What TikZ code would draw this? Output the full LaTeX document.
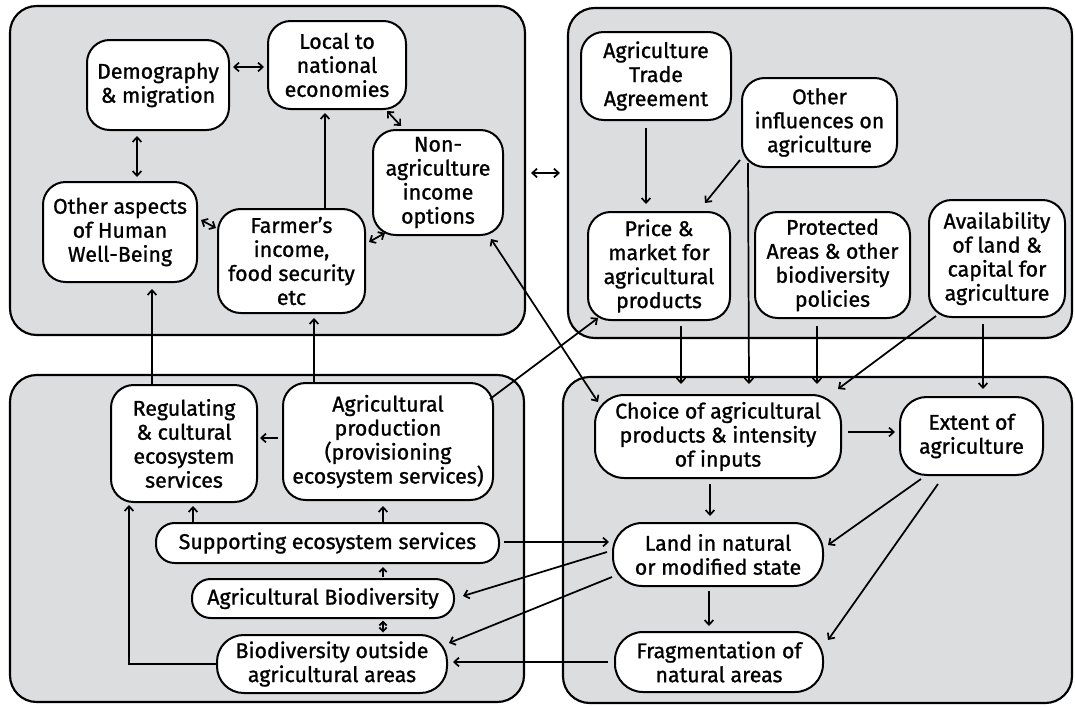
\documentclass[tikz,border=0pt]{standalone}
\usepackage{fontspec}
\setmainfont{Fira Sans}[FakeBold=1.1]
\usetikzlibrary{arrows.meta,calc}
\definecolor{panelgray}{RGB}{220,221,223}
\begin{document}
\begin{tikzpicture}[x=0.75pt,y=-0.75pt,
  box/.style={draw, line width=1.5pt, fill=white, rounded corners=#1, align=center,
    inner sep=0pt, font=\fontsize{16}{18}\selectfont},
  box/.default=17pt,
  wh/.style 2 args={minimum width=#1*0.75pt, minimum height=#2*0.75pt},
  panel/.style={draw, line width=1.6pt, fill=panelgray, rounded corners=20pt, inner sep=0pt},
  tip/.tip={Straight Barb[length=3.5pt,width=6.5pt]},
  stip/.tip={Straight Barb[length=2.8pt,width=5.5pt]},
  ar/.style={line width=1.3pt, -tip},
  dar/.style={line width=1.3pt, tip-tip}]
\useasboundingbox (0,0) rectangle (1075,707);
% panels
\node[panel, wh={515}{329}] (tl) at (267.5,170.5) {};
\node[panel, wh={504}{330}] (tr) at (820,173) {};
\node[panel, wh={514}{327}] (bl) at (267,538.5) {};
\node[panel, wh={509}{326}] (br) at (817.5,540) {};
% top left
\node[box, wh={142}{90}] (dem) at (158,85) {Demography\\\& migration};
\node[box, wh={138}{88}] (loc) at (337,65) {Local to\\national\\economies};
\node[box, wh={130}{105}] (nonag) at (438,182.5) {Non-\\agriculture\\income\\options};
\node[box, wh={154}{100}] (oth) at (120,232) {Other aspects\\of Human\\Well-Being};
\node[box, wh={147}{104}] (farm) at (291.5,261) {Farmer’s\\income,\\food security\\etc};
% top right
\node[box, wh={150}{88}] (ata) at (656,76) {Agriculture\\Trade\\Agreement};
\node[box, wh={155}{89}] (othinf) at (819.5,122.5) {Other\\influences on\\agriculture};
\node[box, wh={142}{108}] (price) at (659,266) {Price \&\\market for\\agricultural\\products};
\node[box, wh={155}{106}] (prot) at (832.5,265) {Protected\\Areas \& other\\biodiversity\\policies};
\node[box, wh={136}{117}] (avail) at (997,258.5) {Availability\\of land \&\\capital for\\agriculture};
% bottom left
\node[box, wh={146}{117}] (reg) at (184,443.5) {Regulating\\\& cultural\\ecosystem\\services};
\node[box, wh={210}{117}] (agp) at (388,441.5) {Agricultural\\production\\(provisioning\\ecosystem services)};
\node[box=14pt, wh={343}{40}] (sup) at (327.5,543) {Supporting ecosystem services};
\node[box=14pt, wh={262}{39}] (agb) at (323,598.5) {Agricultural Biodiversity};
\node[box=20pt, wh={230}{58}] (bio) at (332,664) {Biodiversity outside\\agricultural areas};
% bottom right
\node[box=22pt, wh={246}{83}] (choice) at (718,436.5) {Choice of agricultural\\products \& intensity\\of inputs};
\node[box=20pt, wh={143}{78}] (ext) at (971.5,436) {Extent of\\agriculture};
\node[box=22pt, wh={210}{63}] (land) at (718,554.5) {Land in natural\\or modified state};
\node[box=21pt, wh={208}{60}] (frag) at (719,662) {Fragmentation of\\natural areas};
% connectors top left
\draw[dar] ($(dem.east)+(3,-18)$) -- ($(loc.west)+(-3,2)$);
\draw[dar] ($(dem.south)+(-21,5)$) -- ($(oth.north)+(17,-4)$);
\draw[dar] ($(oth.east)+(3,-12)$) -- ($(farm.west)+(-1,-33)$);
\draw[dar] ($(farm.east)+(3,-19)$) -- ($(nonag.south west)+(13,-3)$);
\draw[dar] ($(loc.south east)+(-20,1)$) -- ($(nonag.north)+(-37,-3)$);
\draw[ar] ($(farm.north)+(33.5,0)$) -- ($(loc.south)+(-12,3)$);
\draw[ar] ($(reg.north)+(-32,0)$) -- ($(oth.south)+(32,6)$);
\draw[ar] ($(agp.north)+(-74,0)$) -- ($(farm.south)+(22.5,4)$);
\draw[dar] ($(tl.east)+(5,2.5)$) -- ($(tr.west)+(-7,0)$);
% connectors top right
\draw[ar] ($(ata.south)+(-10,7)$) -- ($(price.north)+(-13,-7)$);
\draw[ar] ($(othinf.south west)+(-1,-8)$) -- ($(price.north east)+(-26,-8)$);
\draw[ar] ($(othinf.south west)+(7,-5)$) -- ($(choice.north)+(31,-10)$);
\draw[ar] ($(price.south)+(22,5)$) -- ($(choice.north)+(-37,-10)$);
\draw[ar] ($(prot.south)+(-15.5,7)$) -- ($(choice.north)+(99,-10)$);
\draw[ar] ($(avail.south west)+(8,-2)$) -- ($(choice.north east)+(-4,-5)$);
\draw[ar] ($(avail.south)+(-14,6)$) -- ($(ext.north)+(11.5,-7)$);
\draw[ar] ($(agp.north east)+(-4,17)$) -- ($(price.south west)+(11,-3)$);
\draw[dar] ($(nonag.south east)+(-13,3)$) -- ($(choice.north west)+(4,8)$);
% connectors bottom left
\draw[ar] ($(agp.west)+(-4,-3.5)$) -- ($(reg.east)+(2,-5.5)$);
\draw[ar] ($(sup.north)+(-134.5,0)$) -- ($(reg.south)+(9,3)$);
\draw[ar] ($(sup.north)+(55.5,0)$) -- ($(agp.south)+(-5,5)$);
\draw[line width=1.3pt, -stip] ($(agb.north)+(60,-1)$) -- ($(sup.south)+(55.5,3)$);
\draw[line width=1.3pt, stip-stip] ($(agb.south)+(60,1.5)$) -- ($(bio.north)+(51,-1.5)$);
\draw[ar] (bio.west) -| ($(reg.south)+(-55,2)$);
% connectors bottom right
\draw[ar] ($(sup.east)+(4,-1)$) -- ($(land.west)+(-3,-12.5)$);
\draw[ar] ($(land.west)+(-5,-2.5)$) -- ($(agb.east)+(8,-2.5)$);
\draw[ar] ($(land.west)+(0,22.5)$) -- ($(bio.east)+(1,-21)$);
\draw[ar] ($(frag.west)+(-6,0)$) -- ($(bio.east)+(5,-2)$);
\draw[ar] ($(choice.east)+(6,-4.5)$) -- ($(ext.west)+(-4,-4)$);
\draw[ar] ($(choice.south)+(-8,5)$) -- ($(land.north)+(-8,-6)$);
\draw[ar] ($(land.south)+(-9,4)$) -- ($(frag.north)+(-10,-5)$);
\draw[ar] ($(ext.south)+(-50.5,3)$) -- ($(land.east)+(4,-9.5)$);
\draw[ar] ($(ext.south)+(-33.5,8)$) -- ($(frag.east)+(4,-22)$);
\end{tikzpicture}
\end{document}
